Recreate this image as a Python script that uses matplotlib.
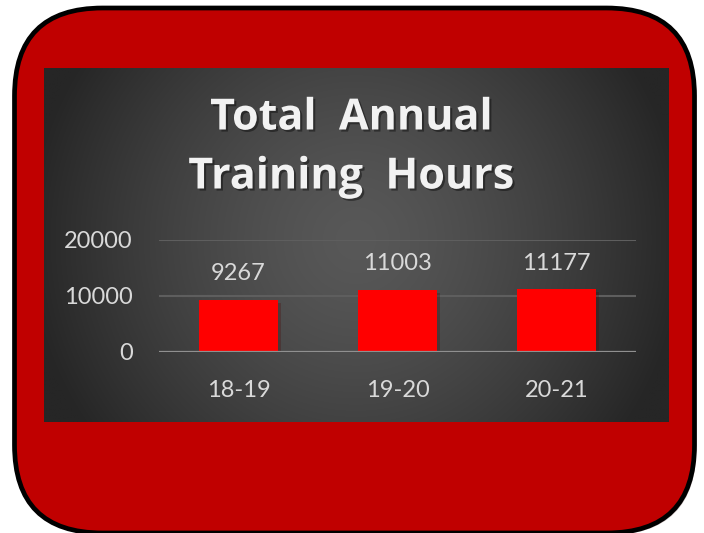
import numpy as np
import matplotlib
matplotlib.use("Agg")
import matplotlib.pyplot as plt
import matplotlib.patheffects as pe
from matplotlib.patches import FancyBboxPatch

# data
years = ["18-19", "19-20", "20-21"]
hours = [9267, 11003, 11177]
y_ticks = [0, 10000, 20000]
title_lines = ["Total  Annual", "Training  Hours"]

W, H = 704, 533
fig = plt.figure(figsize=(W / 100, H / 100), dpi=100)
fig.patch.set_facecolor("white")

# background axes in pixel coordinates
bg = fig.add_axes([0, 0, 1, 1])
bg.set_xlim(0, W)
bg.set_ylim(H, 0)
bg.axis("off")

# red rounded frame with black border
frame = FancyBboxPatch((14.5, 8), 680, 525,
                       boxstyle="round,pad=0,rounding_size=88",
                       facecolor="#c00000", edgecolor="black", linewidth=3.4,
                       zorder=1)
frame.set_path_effects([pe.SimplePatchShadow(offset=(1.5, -1.5), alpha=0.25),
                        pe.Normal()])
bg.add_patch(frame)

# dark radial gradient panel
px0, px1, py0, py1 = 44, 669, 68, 422
xx, yy = np.meshgrid(np.linspace(px0, px1, 400), np.linspace(py0, py1, 240))
r = np.hypot(xx - 356, yy - 240) / 330
r = np.clip(r, 0, 1) ** 1.4
grey = (0x58 - (0x58 - 0x26) * r) / 255
img = np.dstack([grey, grey, grey])
bg.imshow(img, extent=(px0, px1, py1, py0), zorder=2, interpolation="bilinear")
bg.set_xlim(0, W)
bg.set_ylim(H, 0)

# title with soft shadow
shadow = [pe.withSimplePatchShadow(offset=(1.5, -1.5), shadow_rgbFace="black", alpha=0.4)]
for txt, yp in zip(title_lines, [118, 177]):
    bg.text(351, yp, txt, ha="center", va="center", fontsize=31,
            fontweight="bold", family="Open Sans", color="#f2f2f2",
            path_effects=shadow, zorder=5)

# chart axes
ax = fig.add_axes([159 / W, 1 - 352 / H, (636 - 159) / W, (352 - 240) / H])
ax.patch.set_alpha(0)
x = np.arange(len(years))
bars = ax.bar(x, hours, width=0.5, color="#ff0000", zorder=3)
for b in bars:
    b.set_path_effects([pe.SimplePatchShadow(offset=(2, -2), alpha=0.25), pe.Normal()])

for xi, v in zip(x, hours):
    ax.annotate(f"{v}", (xi, v), xytext=(0, 19), textcoords="offset points",
                ha="center", va="center", fontsize=17, family="Lato",
                color="#d9d9d9")

ax.set_xlim(-0.5, 2.5)
ax.set_ylim(0, 20000)
ax.set_yticks(y_ticks)
ax.set_yticklabels([str(t) for t in y_ticks])
ax.set_xticks(x)
ax.set_xticklabels(years)
for s in ax.spines.values():
    s.set_visible(False)
ax.grid(axis="y", color="#5e5e5e", linewidth=1.5, zorder=1)
ax.axhline(0, color="#909090", linewidth=1.6, zorder=4)
ax.tick_params(axis="both", length=0, labelsize=17, labelcolor="#d9d9d9")
ax.tick_params(axis="y", pad=19)
ax.tick_params(axis="x", pad=20)
for lab in ax.get_xticklabels() + ax.get_yticklabels():
    lab.set_family("Lato")

fig.savefig("out.png", dpi=100, facecolor="white")
